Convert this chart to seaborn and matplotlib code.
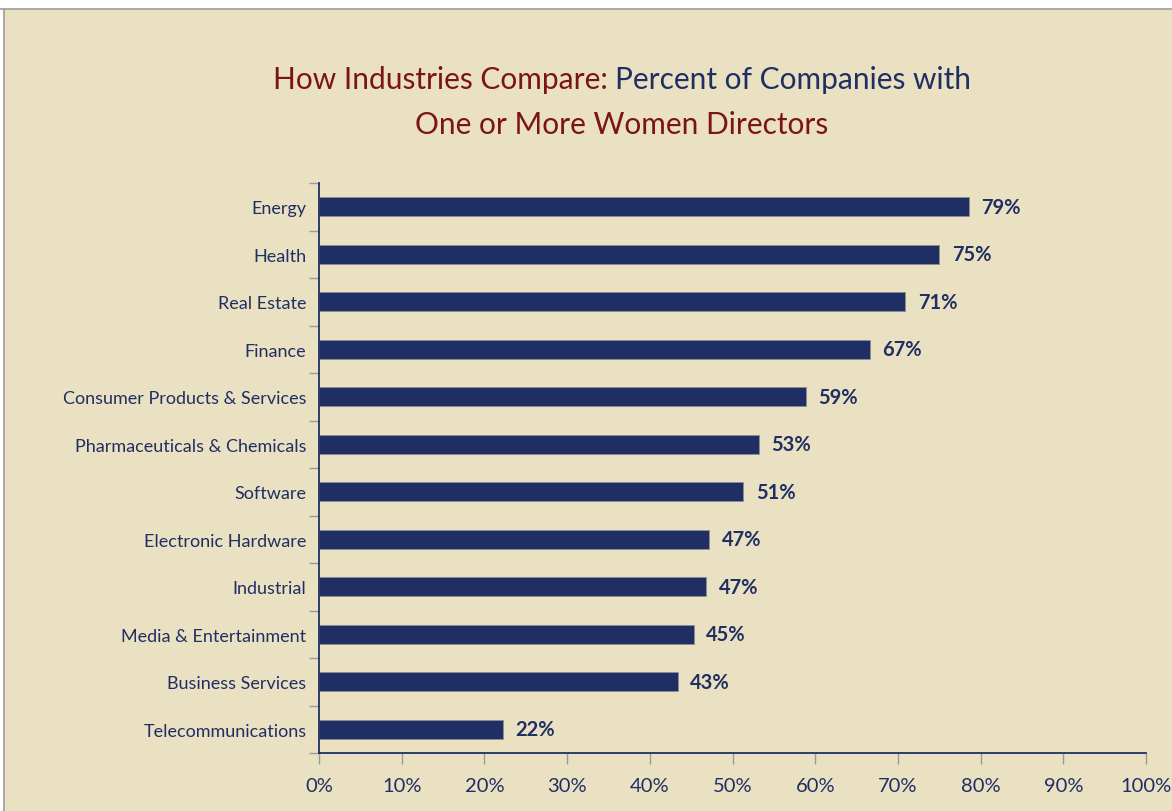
import numpy as np
import pandas as pd
import matplotlib
matplotlib.use("Agg")
import matplotlib.pyplot as plt
from matplotlib.patches import Rectangle
from matplotlib.ticker import FixedLocator, PercentFormatter
import seaborn as sns

# données
industries = ["Energy", "Health", "Real Estate", "Finance",
              "Consumer Products & Services", "Pharmaceuticals & Chemicals",
              "Software", "Electronic Hardware", "Industrial",
              "Media & Entertainment", "Business Services", "Telecommunications"]
pct = [78.6, 75.0, 70.9, 66.6, 58.9, 53.2, 51.3, 47.2, 46.8, 45.3, 43.4, 22.2]
pct_labels = ["79%", "75%", "71%", "67%", "59%", "53%", "51%", "47%", "47%", "45%", "43%", "22%"]
x_ticks = [0, 10, 20, 30, 40, 50, 60, 70, 80, 90, 100]

beige = "#EAE0C2"
navy = "#1F2F63"
red = "#7B1416"
grey = "#9A9A9A"

sns.set_theme(style="white")
plt.rcParams["font.family"] = ["Lato", "DejaVu Sans"]

df = pd.DataFrame({"industry": industries, "pct": pct})

fig = plt.figure(figsize=(11.72, 8.12), dpi=100, facecolor=beige)
# bande blanche en haut + bord gris
fig.patches.append(Rectangle((0, 1 - 9 / 812), 1, 9 / 812, transform=fig.transFigure,
                             facecolor="white", edgecolor="none", zorder=0))
fig.patches.append(Rectangle((0, 0), 3 / 1172, 1, transform=fig.transFigure,
                             facecolor="white", edgecolor="none", zorder=0))
fig.add_artist(plt.Line2D([0, 1], [1 - 10 / 812] * 2, transform=fig.transFigure, color="#A0A0A0", lw=1.2))
fig.add_artist(plt.Line2D([3.5 / 1172] * 2, [0, 1 - 10 / 812], transform=fig.transFigure, color="#A0A0A0", lw=1.2))

ax = fig.add_axes([319 / 1172, 1 - 754 / 812, (1146 - 319) / 1172, (754 - 184) / 812])
ax.set_facecolor(beige)

sns.barplot(data=df, x="pct", y="industry", orient="h", color=navy, width=0.4,
            edgecolor="#8E8E96", linewidth=0.6, saturation=1, ax=ax)

ax.bar_label(ax.containers[0], labels=pct_labels, padding=9, color=navy,
             fontsize=14.5, fontweight="bold")

ax.set_xlim(0, 100)
ax.set_ylim(len(industries) - 0.5, -0.5)
ax.set_xlabel("")
ax.set_ylabel("")

ax.xaxis.set_major_locator(FixedLocator(x_ticks))
ax.xaxis.set_major_formatter(PercentFormatter(decimals=0))
ax.tick_params(axis="x", bottom=True, length=8, width=1, color=grey, direction="out",
               labelsize=14.5, labelcolor=navy, pad=9)
ax.tick_params(axis="y", which="major", left=False, length=0, labelsize=13,
               labelcolor=navy, pad=9)
ax.yaxis.set_minor_locator(FixedLocator(np.arange(-0.5, len(industries), 1)))
ax.tick_params(axis="y", which="minor", left=True, length=7, width=1, color=grey, direction="out")

for s in ["top", "right"]:
    ax.spines[s].set_visible(False)
for s in ["left", "bottom"]:
    ax.spines[s].set_color(navy)
    ax.spines[s].set_linewidth(1.3)

# titre bicolore
fs = 21.5
t1 = fig.text(0, 0, "How Industries Compare: ", color=red, fontsize=fs)
t2 = fig.text(0, 0, "Percent of Companies with", color=navy, fontsize=fs)
fig.canvas.draw()
r = fig.canvas.get_renderer()
w1 = t1.get_window_extent(r).width / 1172
w2 = t2.get_window_extent(r).width / 1172
x0 = 622 / 1172 - (w1 + w2) / 2
y1 = 1 - 80 / 812
t1.set_position((x0, y1))
t1.set_va("center")
t2.set_position((x0 + w1, y1))
t2.set_va("center")
fig.text(622 / 1172, 1 - 125 / 812, "One or More Women Directors", color=red,
         fontsize=fs, ha="center", va="center")

fig.savefig("out.png", dpi=100, facecolor=beige)
